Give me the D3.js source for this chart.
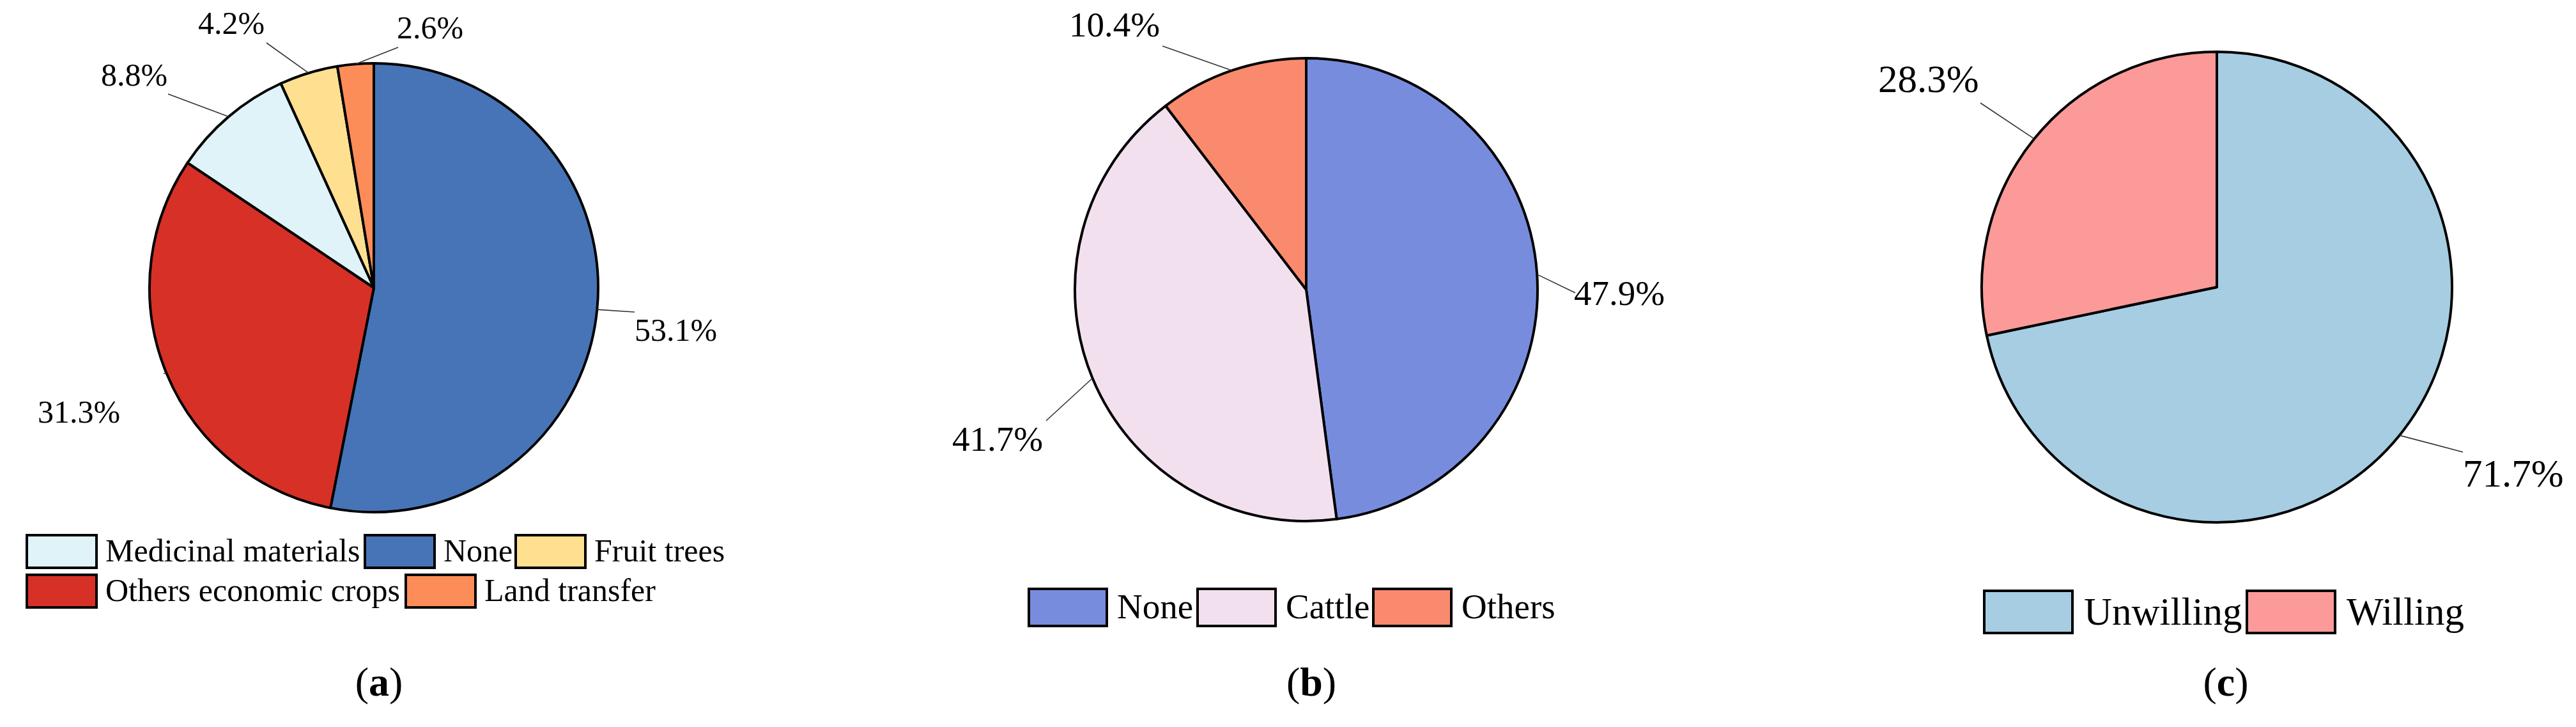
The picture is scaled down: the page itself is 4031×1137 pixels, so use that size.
<!DOCTYPE html>
<html><head><meta charset="utf-8">
<script src="https://cdn.jsdelivr.net/npm/d3@7"></script>
<style>body{margin:0;background:#fff}text{font-family:"Liberation Serif","Times New Roman",serif;fill:#000}</style>
</head><body><svg id="c" width="4031" height="1137"></svg>
<script>
// Data
const catA = ["None","Others economic crops","Medicinal materials","Fruit trees","Land transfer"];
const valA = [53.1,31.3,8.8,4.2,2.6];
const colA = ["#4674B6","#D73027","#E0F3F8","#FEE090","#FC8D59"];
const catB = ["None","Cattle","Others"];
const valB = [47.9,41.7,10.4];
const colB = ["#788CDE","#F2E0EF","#FA8A6E"];
const catC = ["Unwilling","Willing"];
const valC = [71.7,28.3];
const colC = ["#A6CDE2","#FB9A99"];

const svg = d3.select("#c");

// layout per panel
const panels = [
 {cat:catA,val:valA,col:colA,cx:585,cy:450,r:351,fs:50,caption:"a",capX:593,
  // label text anchor points (leader end), text offset
  lab:[{ex:993,ey:488,tx:993,ty:533,a:"start"},{ex:256,ey:584,tx:59,ty:661,a:"start"},
       {ex:263,ey:147,tx:158,ty:134,a:"start"},{ex:417,ey:67,tx:310,ty:53,a:"start"},
       {ex:623,ey:74,tx:621,ty:60,a:"start"}],
  legend:{fs:50,h:51,rows:[[[2,42,837],[0,571,837],[3,807,837]],[[1,42,899],[4,635,899]]],bw:109,tdx:14}},
 {cat:catB,val:valB,col:colB,cx:2044,cy:453,r:362,fs:55,caption:"b",capX:2052,
  lab:[{ex:2465,ey:458,tx:2463,ty:477,a:"start"},{ex:1637,ey:658,tx:1490,ty:705,a:"start"},
       {ex:1819,ey:72,tx:1673,ty:57,a:"start"}],
  legend:{fs:55,h:58,rows:[[[0,1610,921],[1,1874,921],[2,2149,921]]],bw:122,tdx:16}},
 {cat:catC,val:valC,col:colC,cx:3469,cy:449,r:368,fs:61,caption:"c",capX:3483,
  lab:[{ex:3854,ey:707,tx:3854,ty:761,a:"start"},{ex:3099,ey:161,tx:2939,ty:144,a:"start"}],
  legend:{fs:61,h:66,rows:[[[0,3105,924],[1,3516,924]]],bw:138,tdx:18}}
];

panels.forEach(p=>{
  const pie = d3.pie().sort(null).value(d=>d)(p.val);
  const arc = d3.arc().innerRadius(0).outerRadius(p.r);
  const g = svg.append("g").attr("transform",`translate(${p.cx},${p.cy})`);
  g.selectAll("path").data(pie).join("path").attr("d",arc)
    .attr("fill",(d,i)=>p.col[i]).attr("stroke","#000").attr("stroke-width",4).attr("stroke-linejoin","round");
  pie.forEach((d,i)=>{
    const m=(d.startAngle+d.endAngle)/2;
    const sx=p.cx+p.r*Math.sin(m), sy=p.cy-p.r*Math.cos(m);
    const L=p.lab[i];
    svg.append("line").attr("x1",sx).attr("y1",sy).attr("x2",L.ex).attr("y2",L.ey)
      .attr("stroke","#333").attr("stroke-width",1.6);
    svg.append("text").attr("x",L.tx).attr("y",L.ty).attr("font-size",p.fs).attr("text-anchor",L.a)
      .text(d3.format(".1f")(d.data)+"%");
  });
  const lg=p.legend;
  lg.rows.forEach(row=>row.forEach(([i,x,y])=>{
    svg.append("rect").attr("x",x).attr("y",y).attr("width",lg.bw).attr("height",lg.h)
      .attr("fill",p.col[i]).attr("stroke","#000").attr("stroke-width",4);
    svg.append("text").attr("x",x+lg.bw+lg.tdx).attr("y",y+lg.h*0.8).attr("font-size",lg.fs).text(p.cat[i]);
  }));
  const t=svg.append("text").attr("x",p.capX).attr("y",1088).attr("font-size",64).attr("text-anchor","middle");
  t.append("tspan").text("(");
  t.append("tspan").attr("font-weight","bold").text(p.caption);
  t.append("tspan").text(")");
});
</script></body></html>
